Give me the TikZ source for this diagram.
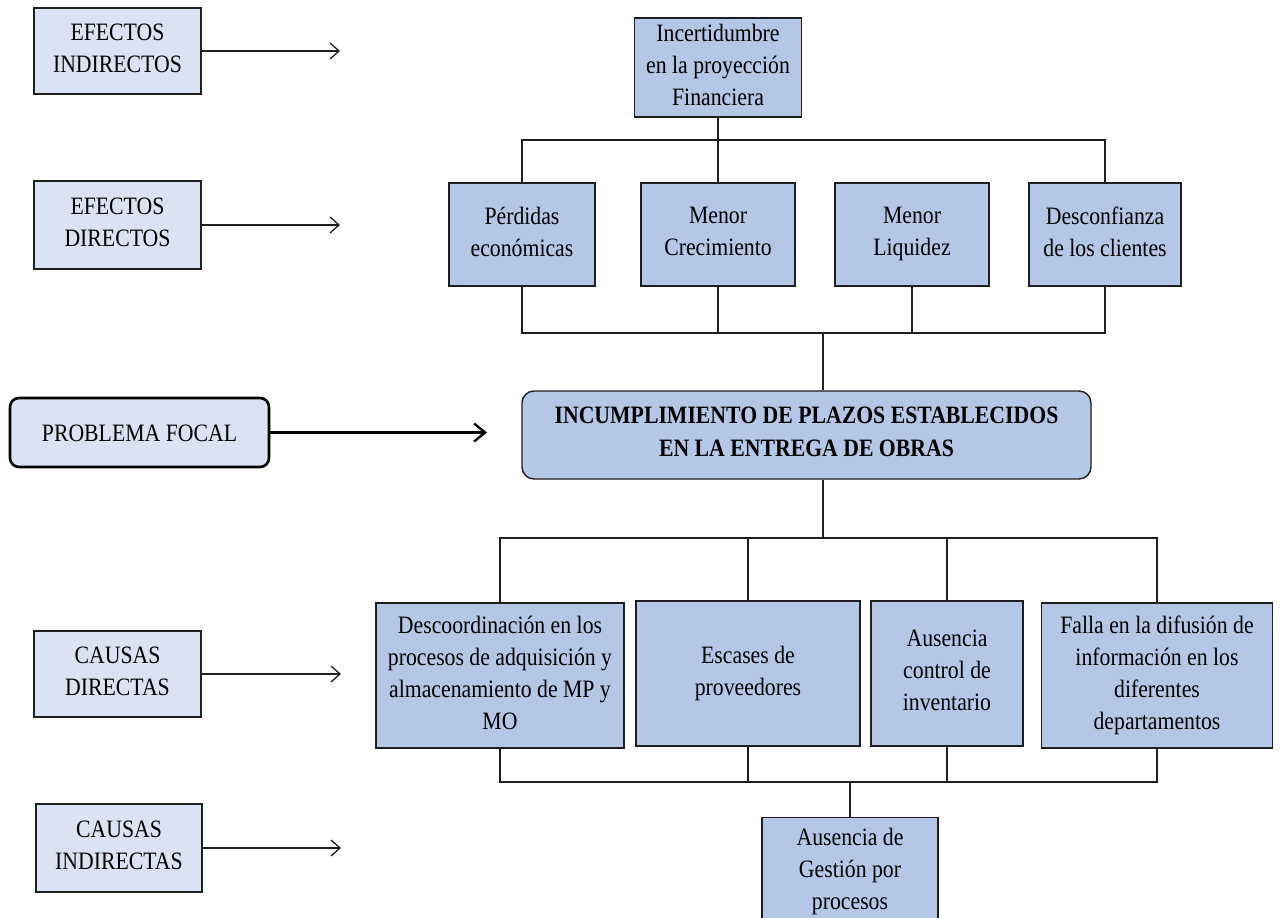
\documentclass[tikz,border=0pt]{standalone}
\usepackage{fontspec}
\setmainfont{Liberation Serif}[FakeStretch=0.87]
\usetikzlibrary{arrows.meta}
\definecolor{lblfill}{HTML}{DAE3F3}
\definecolor{boxfill}{HTML}{B4C7E7}
\definecolor{ink}{HTML}{1F1F1F}
\begin{document}
\begin{tikzpicture}[x=1pt,y=-1pt,
  every node/.style={font=\fontsize{25}{32}\selectfont, align=center, inner sep=0pt, text=black,
    execute at begin node=\rule{0pt}{23pt}, execute at end node=\rule[-6pt]{0pt}{6pt}},
  lbl/.style={draw=ink, line width=1.4pt, fill=lblfill},
  card/.style={draw=ink, line width=1.4pt, fill=boxfill},
  wire/.style={draw=ink, line width=1.4pt},
  pointer/.style={draw=ink, line width=1.3pt, -{Straight Barb[length=9pt,width=16pt,line width=1.3pt]}},
  bigpointer/.style={draw=black, line width=2.4pt, -{Straight Barb[length=11pt,width=18pt,line width=2.4pt]}}
]
\useasboundingbox (0,0) rectangle (1280,918);
\clip (0,0) rectangle (1280,918);
\fill[white] (0,0) rectangle (1280,918);

% level labels on the left
\node[lbl, minimum width=167pt, minimum height=86pt] (ei) at (117.5,51) {EFECTOS\\INDIRECTOS};
\node[lbl, minimum width=167pt, minimum height=88pt] (ed) at (117.5,225) {EFECTOS\\DIRECTOS};
\node[lbl, draw=black, line width=2.6pt, rounded corners=9pt, minimum width=259pt, minimum height=69pt] (pf) at (139.5,432.5) {PROBLEMA FOCAL};
\node[lbl, minimum width=167pt, minimum height=86pt] (cd) at (117.5,674) {CAUSAS\\DIRECTAS};
\node[lbl, minimum width=166pt, minimum height=88pt] (ci) at (119,848) {CAUSAS\\INDIRECTAS};

\coordinate (eitip) at (340,51);
\coordinate (edtip) at (340,225);
\coordinate (pftip) at (487,432.5);
\coordinate (cdtip) at (341,674);
\coordinate (citip) at (341,848);
\draw[pointer] (ei.east) -- (eitip);
\draw[pointer] (ed.east) -- (edtip);
\draw[bigpointer] (pf.east) -- (pftip);
\draw[pointer] (cd.east) -- (cdtip);
\draw[pointer] (ci.east) -- (citip);

% effects
\node[card, minimum width=167pt, minimum height=99pt] (inc) at (718,67.5) {Incertidumbre\\en la proyección\\Financiera};
\node[card, minimum width=146pt, minimum height=103pt] (per) at (522,234.5) {Pérdidas\\económicas};
\node[card, minimum width=154pt, minimum height=103pt] (cre) at (718,234.5) {Menor\\Crecimiento};
\node[card, minimum width=154pt, minimum height=103pt] (liq) at (912,234.5) {Menor\\Liquidez};
\node[card, minimum width=152pt, minimum height=103pt] (des) at (1105,234.5) {Desconfianza\\de los clientes};

% focal problem
\node[card, rounded corners=12pt, minimum width=569pt, minimum height=88pt, font=\fontsize{25}{33}\selectfont\bfseries] (foc) at (806.5,435) {INCUMPLIMIENTO DE PLAZOS ESTABLECIDOS\\EN LA ENTREGA DE OBRAS};

% causes
\node[card, minimum width=248pt, minimum height=145pt] (dc) at (500,675.5) {Descoordinación en los\\procesos de adquisición y\\almacenamiento de MP y\\MO};
\node[card, minimum width=224pt, minimum height=145pt] (esc) at (748,673.5) {Escases de\\proveedores};
\node[card, minimum width=152pt, minimum height=145pt] (aus) at (947,673.5) {Ausencia\\control de\\inventario};
\node[card, minimum width=231pt, minimum height=145pt] (fal) at (1157,675.5) {Falla en la difusión de\\información en los\\diferentes\\departamentos};
\node[card, minimum width=176pt, minimum height=108pt, anchor=north] (gest) at (850,817) {Ausencia de\\Gestión por\\procesos};

% upper tree: indirect effect to direct effects
\coordinate (tb) at (718,140);
\draw[wire] (inc.south) -- (cre.north);
\draw[wire] (per.north) -- (per.north |- tb) -- (des.north |- tb) -- (des.north);

% direct effects to focal problem
\coordinate (mb) at (823,333);
\draw[wire] (per.south) -- (per.south |- mb) -- (des.south |- mb) -- (des.south);
\draw[wire] (cre.south) -- (cre.south |- mb);
\draw[wire] (liq.south) -- (liq.south |- mb);
\draw[wire] (mb) -- (mb |- foc.north);

% focal problem to direct causes
\coordinate (lb) at (823,538);
\draw[wire] (lb |- foc.south) -- (lb);
\draw[wire] (dc.north) -- (dc.north |- lb) -- (fal.north |- lb) -- (fal.north);
\draw[wire] (esc.north) -- (esc.north |- lb);
\draw[wire] (aus.north) -- (aus.north |- lb);

% direct causes to indirect cause
\coordinate (bb) at (850,782);
\draw[wire] (dc.south) -- (dc.south |- bb) -- (fal.south |- bb) -- (fal.south);
\draw[wire] (esc.south) -- (esc.south |- bb);
\draw[wire] (aus.south) -- (aus.south |- bb);
\draw[wire] (bb) -- (gest.north);
\end{tikzpicture}
\end{document}
